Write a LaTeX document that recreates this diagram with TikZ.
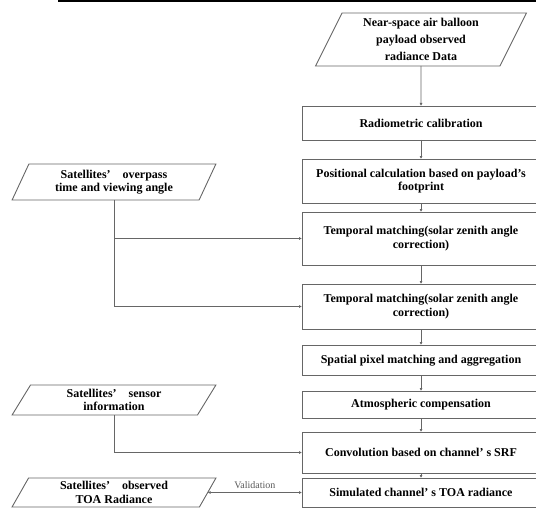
\documentclass[tikz,border=0pt]{standalone}
\usepackage{fontspec}
\setmainfont{Liberation Serif}
\usetikzlibrary{arrows.meta,positioning,shapes.geometric}

\begin{document}
\begin{tikzpicture}[x=1pt,y=-1pt,every node/.style={font=\bfseries\fontsize{12}{13.5}\selectfont,align=center},box/.style={draw=black!60,line width=0.9pt,minimum width=238pt,inner sep=2pt,outer sep=0pt},iobox/.style={trapezium,trapezium left angle=66,trapezium right angle=114,trapezium stretches=true,draw=black!60,line width=0.9pt,inner sep=1pt,outer sep=0pt},arrow/.style={-{Latex[length=3pt,width=3pt]},black!60,line width=0.8pt},biarrow/.style={{Latex[length=3pt,width=3pt]}-{Latex[length=3pt,width=3pt]},black!60,line width=0.8pt}]
\useasboundingbox (0,0) rectangle (536,508);
\draw[line width=1.5pt] (58,1) -- (536,1);
% main column
\node[iobox,minimum width=211pt,minimum height=53pt,font=\bfseries\fontsize{12}{17}\selectfont] (balloon) at (421,39.5) {Near-space air balloon\\payload observed\\radiance Data};
\node[box,minimum height=34pt,below=40pt of balloon] (radio) {Radiometric calibration};
\node[box,minimum height=44pt,below=19pt of radio] (pos) {Positional calculation based on payload's\\footprint};
\node[box,minimum height=53pt,below=9pt of pos] (temp1) {Temporal matching(solar zenith angle\\correction)};
\node[box,minimum height=45pt,below=19pt of temp1] (temp2) {Temporal matching(solar zenith angle\\correction)};
\node[box,minimum height=30.5pt,below=16pt of temp2] (spatial) {Spatial pixel matching and aggregation};
\node[box,minimum height=27pt,below=15.5pt of spatial] (atmos) {Atmospheric compensation};
\node[box,minimum height=41pt,below=14pt of atmos] (conv) {Convolution based on channel’ s SRF};
\node[box,minimum height=29pt,below=5pt of conv] (sim) {Simulated channel’ s TOA radiance};
% satellite inputs
\node[iobox,minimum width=204pt,minimum height=36pt] (overpass) at (114,182) {Satellites’\quad overpass\\time and viewing angle};
\node[iobox,minimum width=204pt,minimum height=30pt] (sensor) at (114,400) {Satellites’\quad sensor\\information};
\node[iobox,minimum width=204pt,minimum height=29pt] (observed) at (114,0 |- sim) {Satellites’\quad observed\\TOA Radiance};
\draw[arrow] (balloon)--(radio);\draw[arrow] (radio)--(pos);\draw[arrow] (pos)--(temp1);\draw[arrow] (temp1)--(temp2);
\draw[arrow] (temp2)--(spatial);\draw[arrow] (spatial)--(atmos);\draw[arrow] (atmos)--(conv);\draw[arrow] (conv)--(sim);
\draw[arrow] (overpass.south) |- (temp1.west);
\draw[arrow] (overpass.south) |- (temp2.west);
\draw[arrow] (sensor.south) |- (conv.west);
\draw[biarrow] (observed.east) -- node[above=0pt,font=\fontsize{10}{12}\selectfont,text=black!65] (valid) {Validation} (sim.west);
\end{tikzpicture}
\end{document}
